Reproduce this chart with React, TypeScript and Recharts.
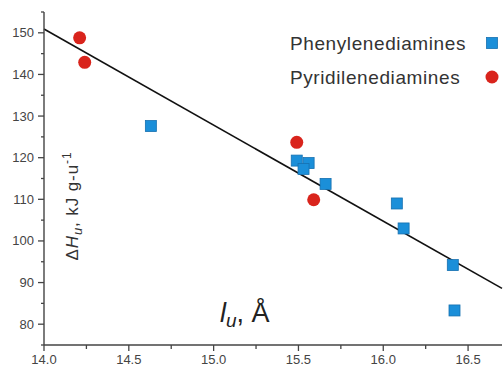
import React from "react";
import {
  ScatterChart,
  Scatter,
  XAxis,
  YAxis,
  ReferenceLine,
  Legend,
} from "recharts";

const phenyleneX = [14.63, 15.49, 15.56, 15.53, 15.66, 16.08, 16.12, 16.41, 16.42];
const phenyleneY = [127.6, 119.3, 118.7, 117.3, 113.7, 109.0, 103.0, 94.2, 83.3];
const pyridileneX = [14.21, 14.24, 15.49, 15.59];
const pyridileneY = [148.8, 142.9, 123.7, 109.9];
const fitLine = [
  { x: 14.0, y: 150.9 },
  { x: 16.7, y: 88.6 },
];
const xTicks = [14.0, 14.25, 14.5, 14.75, 15.0, 15.25, 15.5, 15.75, 16.0, 16.25, 16.5];
const yTicks = [75, 80, 85, 90, 95, 100, 105, 110, 115, 120, 125, 130, 135, 140, 145, 150, 155];

const phenylene = phenyleneX.map((x, i) => ({ x, y: phenyleneY[i] }));
const pyridilene = pyridileneX.map((x, i) => ({ x, y: pyridileneY[i] }));

const BLUE = "#1b8fd9";
const RED = "#d9241c";
const AXIS = "#444";
const FONT = "'Liberation Sans', Arial, sans-serif";

const XTick = (props: any) => {
  const { x, y, payload } = props;
  const v = payload.value as number;
  const major = Math.abs(v * 2 - Math.round(v * 2)) < 1e-6;
  return (
    <g>
      <line x1={x} x2={x} y1={y} y2={y + (major ? 6 : 4)} stroke={AXIS} strokeWidth={1.3} />
      {major && (
        <text x={x} y={y + 19} textAnchor="middle" fontSize={13} fill={AXIS} fontFamily={FONT}>
          {v.toFixed(1)}
        </text>
      )}
    </g>
  );
};

const YTick = (props: any) => {
  const { x, y, payload } = props;
  const v = payload.value as number;
  const major = v % 10 === 0;
  return (
    <g>
      <line x1={x - (major ? 6 : 3)} x2={x} y1={y} y2={y} stroke={AXIS} strokeWidth={1.3} />
      {major && (
        <text x={x - 10} y={y + 4.5} textAnchor="end" fontSize={13} fill={AXIS} fontFamily={FONT}>
          {v}
        </text>
      )}
    </g>
  );
};

const Square = (props: any) => {
  const { cx, cy } = props;
  return (
    <rect x={cx - 5.5} y={cy - 5.5} width={11} height={11} fill={BLUE} stroke="#1670b0" strokeWidth={0.8} />
  );
};

const Dot = (props: any) => {
  const { cx, cy } = props;
  return <circle cx={cx} cy={cy} r={6.5} fill={RED} />;
};

const legendRows = [
  { name: "Phenylenediamines", kind: "square" },
  { name: "Pyridilenediamines", kind: "circle" },
];

const LegendBox = () => (
  <svg width={230} height={70} style={{ display: "block" }}>
    {legendRows.map((r, i) => {
      const cy = 13 + i * 34;
      return (
        <g key={r.name}>
          <text x={0} y={cy + 6.5} fontSize={19} letterSpacing={0.6} fill="#333" fontFamily={FONT}>
            {r.name}
          </text>
          {r.kind === "square" ? (
            <rect x={196.5} y={cy - 5.5} width={11} height={11} fill={BLUE} stroke="#1670b0" strokeWidth={0.8} />
          ) : (
            <circle cx={202} cy={cy} r={6.5} fill={RED} />
          )}
        </g>
      );
    })}
  </svg>
);

export default function App() {
  return (
    <div style={{ position: "absolute", left: 0, top: 0, width: 504, height: 367, background: "#fff" }}>
      <ScatterChart width={504} height={367} margin={{ top: 12, right: 2, bottom: 0, left: 0 }}>
        <XAxis
          type="number"
          dataKey="x"
          domain={[14, 16.7]}
          ticks={xTicks}
          interval={0}
          height={22}
          tickSize={0}
          tickMargin={0}
          tickLine={false}
          tick={<XTick />}
          axisLine={{ stroke: AXIS, strokeWidth: 1.4 }}
          allowDataOverflow
        />
        <YAxis
          type="number"
          dataKey="y"
          domain={[75, 155]}
          ticks={yTicks}
          interval={0}
          width={44}
          tickSize={0}
          tickMargin={0}
          tickLine={false}
          tick={<YTick />}
          axisLine={{ stroke: AXIS, strokeWidth: 1.4 }}
          allowDataOverflow
        />
        <ReferenceLine segment={fitLine} stroke="#111" strokeWidth={1.6} />
        <Scatter name="Phenylenediamines" data={phenylene} shape={<Square />} isAnimationActive={false} />
        <Scatter name="Pyridilenediamines" data={pyridilene} shape={<Dot />} isAnimationActive={false} />
        <Legend
          layout="vertical"
          align="center"
          verticalAlign="middle"
          content={<LegendBox />}
          wrapperStyle={{ position: "absolute", left: 290, top: 30, width: 230, height: 70 }}
        />
      </ScatterChart>
      <svg
        width={504}
        height={367}
        style={{ position: "absolute", left: 0, top: 0, pointerEvents: "none" }}
      >
        <text
          transform="translate(78,206) rotate(-90)"
          textAnchor="middle"
          fontSize={17}
          letterSpacing={0.9}
          fill="#333"
          fontFamily={FONT}
        >
          Δ<tspan fontStyle="italic">H</tspan>
          <tspan fontStyle="italic" fontSize={13} dy={4}>u</tspan>
          <tspan dy={-4}>, kJ g-u</tspan>
          <tspan fontSize={12} dy={-7}>-1</tspan>
        </text>
        <text x={220} y={322} fontSize={27} fill="#222" fontFamily={FONT}>
          <tspan fontStyle="italic">l</tspan>
          <tspan fontStyle="italic" fontSize={19} dy={5}>u</tspan>
          <tspan dy={-5}>, Å</tspan>
        </text>
      </svg>
    </div>
  );
}
